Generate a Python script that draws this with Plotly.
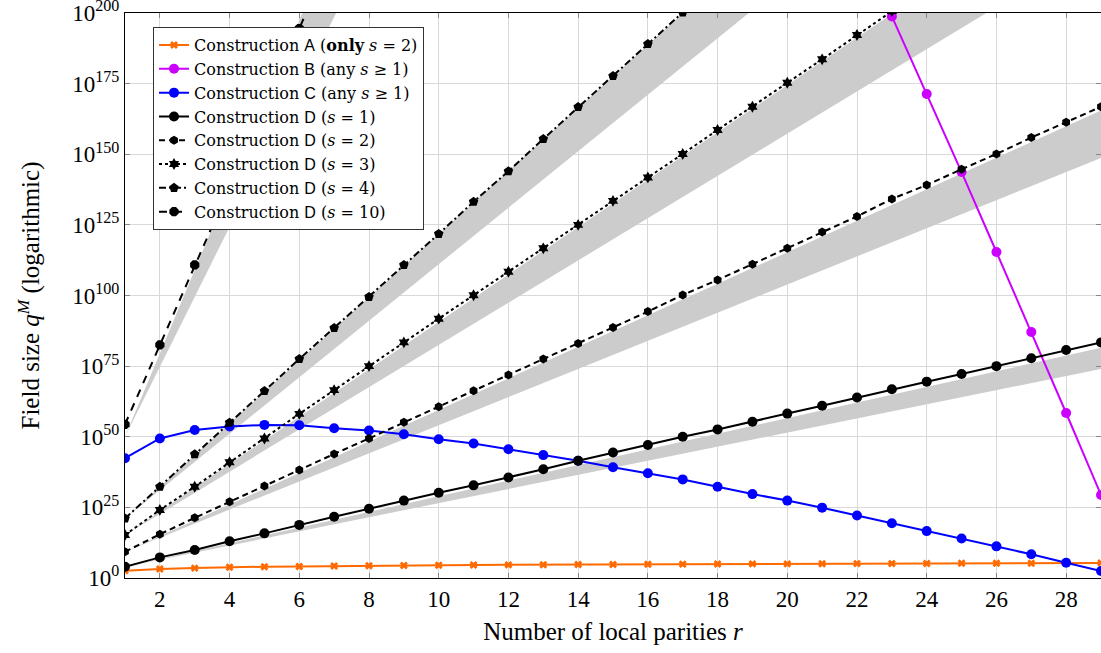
import plotly.graph_objects as go

# ---------------- data (exponents: value = 10**exp) ----------------
r = list(range(1, 30))

A_exp = [2.6, 3.2, 3.5, 3.8, 4.0, 4.1, 4.25, 4.35, 4.45, 4.5, 4.6, 4.65, 4.7, 4.75,
         4.8, 4.85, 4.9, 4.95, 5.0, 5.0, 5.05, 5.1, 5.1, 5.15, 5.2, 5.2, 5.25, 5.3, 5.35]

B_r = [23, 24, 25, 26, 27, 28, 29]
B_exp = [198.8, 171.3, 143.7, 115.4, 87.1, 58.4, 29.4]

C_exp = [42.4, 49.4, 52.4, 53.6, 54.2, 54.1, 53.0, 52.2, 50.9, 49.1, 47.6, 45.6, 43.5,
         41.5, 39.2, 37.1, 34.9, 32.3, 29.7, 27.4, 24.9, 22.1, 19.4, 16.6, 14.0, 11.2,
         8.4, 5.4, 2.5]

D1_exp = [4.0, 7.3, 9.9, 13.0, 15.8, 18.8, 21.7, 24.5, 27.4, 30.2, 32.8, 35.6, 38.5,
          41.5, 44.4, 47.1, 50.0, 52.6, 55.3, 58.2, 61.0, 63.9, 66.8, 69.5, 72.2, 75.0,
          77.8, 80.7, 83.4]

D2_exp = [9.3, 15.5, 21.3, 27.0, 32.6, 38.2, 43.9, 49.4, 55.1, 60.6, 66.3, 71.9, 77.5,
          83.0, 88.7, 94.3, 100.2, 105.5, 111.1, 116.7, 122.5, 128.0, 134.2, 139.1,
          144.7, 150.1, 155.9, 161.3, 166.8]

D3_r = list(range(1, 25))
D3_exp = [15.2, 24.1, 32.3, 41.0, 49.4, 58.1, 66.5, 75.0, 83.4, 91.8, 100.1, 108.4,
          116.7, 125.0, 133.5, 141.8, 150.1, 158.6, 166.8, 175.3, 183.6, 192.2, 200.7, 209.1]

D4_r = list(range(1, 19))
D4_exp = [21.1, 32.3, 43.8, 55.0, 66.2, 77.5, 88.5, 99.5, 110.8, 121.8, 133.2, 144.0,
          155.4, 166.7, 177.7, 189.0, 200.2, 211.4]

D10_r = list(range(1, 8))
D10_exp = [54.4, 82.5, 110.8, 139.0, 166.5, 194.5, 223.0]

# gray bands (exponent ranges) given at their end points
band_r = [1, 29]
band1_lo, band1_hi = [4.0, 74.0], [4.0, 81.5]
band2_lo, band2_hi = [9.3, 148.7], [9.3, 165.5]
band3_lo, band3_hi = [15.2, 224.6], [15.2, 250.0]
band4_lo, band4_hi = [21.1, 301.0], [21.1, 334.0]
band10_r = [1, 8]
band10_lo, band10_hi = [50.0, 223.3], [50.0, 256.5]

xticks = list(range(2, 29, 2))
ytick_exp = [0, 25, 50, 75, 100, 125, 150, 175, 200]

# ---------------- figure ----------------
SERIF = "Liberation Serif"
LEGSERIF = "DejaVu Serif"
SANS = "Liberation Sans"
BAND = "#cccccc"

fig = go.Figure()

def band(xs, lo, hi):
    fig.add_trace(go.Scatter(x=xs + xs[::-1], y=lo + hi[::-1], fill="toself",
                             fillcolor=BAND, line=dict(width=0), mode="lines",
                             showlegend=False, hoverinfo="skip"))

band(band_r, band1_lo, band1_hi)
band(band_r, band2_lo, band2_hi)
band(band_r, band3_lo, band3_hi)
band(band_r, band4_lo, band4_hi)
band(band10_r, band10_lo, band10_hi)

def L(letter, rest):
    return ('Construction <span style="font-family:%s">%s</span> %s' % (SANS, letter, rest))

fig.add_trace(go.Scatter(x=r, y=A_exp, mode="lines+markers", name=L("A", "(<b>only</b> <i>s</i> = 2)"),
                         line=dict(color="#ff6a00", width=2),
                         marker=dict(symbol="x", size=7, color="#ff6a00")))
fig.add_trace(go.Scatter(x=B_r, y=B_exp, mode="lines+markers", name=L("B", "(any <i>s</i> ≥ 1)"),
                         line=dict(color="#cc00ff", width=2),
                         marker=dict(symbol="circle", size=10, color="#cc00ff")))
fig.add_trace(go.Scatter(x=r, y=C_exp, mode="lines+markers", name=L("C", "(any <i>s</i> ≥ 1)"),
                         line=dict(color="#0000ff", width=2),
                         marker=dict(symbol="circle", size=10, color="#0000ff")))
fig.add_trace(go.Scatter(x=r, y=D1_exp, mode="lines+markers", name=L("D", "(<i>s</i> = 1)"),
                         line=dict(color="black", width=2),
                         marker=dict(symbol="circle", size=10, color="black")))
fig.add_trace(go.Scatter(x=r, y=D2_exp, mode="lines+markers", name=L("D", "(<i>s</i> = 2)"),
                         line=dict(color="black", width=2, dash="6px,4px"),
                         marker=dict(symbol="hexagon", size=9, color="black")))
fig.add_trace(go.Scatter(x=D3_r, y=D3_exp, mode="lines+markers", name=L("D", "(<i>s</i> = 3)"),
                         line=dict(color="black", width=2, dash="dot"),
                         marker=dict(symbol="hexagram", size=9, color="black")))
fig.add_trace(go.Scatter(x=D4_r, y=D4_exp, mode="lines+markers", name=L("D", "(<i>s</i> = 4)"),
                         line=dict(color="black", width=2, dash="7px,3px,2px,3px"),
                         marker=dict(symbol="pentagon", size=10, color="black")))
fig.add_trace(go.Scatter(x=D10_r, y=D10_exp, mode="lines+markers", name=L("D", "(<i>s</i> = 10)"),
                         line=dict(color="black", width=2, dash="8px,7px"),
                         marker=dict(symbol="octagon", size=10, color="black")))

fig.update_layout(
    width=1101, height=653,
    margin=dict(l=125, r=0, t=13, b=75),
    paper_bgcolor="white", plot_bgcolor="white",
    font=dict(family=SERIF, size=22, color="black"),
    showlegend=True,
    legend=dict(x=0.0287, y=0.975, xanchor="left", yanchor="top",
                bgcolor="white", bordercolor="#333333", borderwidth=1,
                font=dict(family=LEGSERIF, size=16), tracegroupgap=0),
    xaxis=dict(range=[1, 29], tickvals=xticks, ticktext=[str(v) for v in xticks],
               automargin=False, tickfont=dict(family=SERIF, size=23),
               showgrid=True, gridcolor="#d9d9d9", gridwidth=1,
               showline=True, linecolor="black", linewidth=1, mirror="ticks",
               ticks="inside", ticklen=5, tickcolor="#888888",
               zeroline=False, ticklabeloverflow="allow",
               title=dict(text="Number of local parities <i>r</i>", standoff=11,
                          font=dict(family=SERIF, size=25))),
    yaxis=dict(range=[0, 200], tickvals=ytick_exp,
               ticktext=["10<sup>%d</sup>" % e for e in ytick_exp],
               automargin=False, tickfont=dict(family=SERIF, size=23),
               showgrid=True, gridcolor="#d9d9d9", gridwidth=1,
               showline=True, linecolor="black", linewidth=1, mirror="ticks",
               ticks="inside", ticklen=5, tickcolor="#888888",
               zeroline=False, ticklabeloverflow="allow",
               title=dict(text="Field size <i>q</i><sup><i>M</i></sup> (logarithmic)", standoff=25,
                          font=dict(family=SERIF, size=25))),
)

# remove the browser's default body margin / scrollbars so the figure fills the window
fig.write_html("out.html", config={"displayModeBar": False},
               post_script="document.body.style.margin='0';document.body.style.overflow='hidden';")
